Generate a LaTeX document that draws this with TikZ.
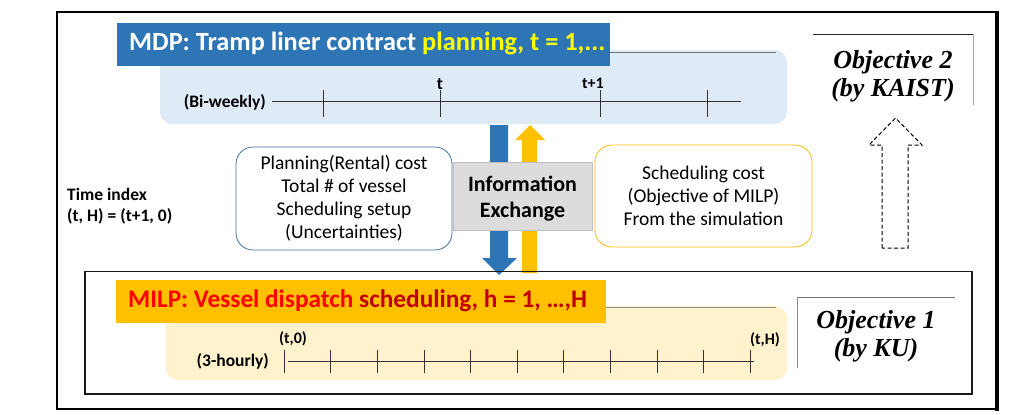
\documentclass[tikz,border=0pt]{standalone}
\usepackage{fontspec}
\setmainfont{Carlito}
\newfontfamily\objfont{Liberation Serif}
\definecolor{blueT}{HTML}{2E75B6}
\definecolor{panelB}{HTML}{DEEBF7}
\definecolor{yellowT}{HTML}{FFC000}
\definecolor{panelY}{HTML}{FFF2CC}
\definecolor{boxB}{HTML}{41719C}
\definecolor{infoG}{HTML}{DCDCDC}
\definecolor{brightY}{HTML}{FFFF00}
\definecolor{redA}{HTML}{FF0000}
\definecolor{redB}{HTML}{C00000}
\tikzset{
  lbl/.style={font=\bfseries\fontsize{17.5}{19}\selectfont, inner sep=0pt},
  smlbl/.style={font=\bfseries\fontsize{16}{18}\selectfont, inner sep=0pt},
  tick/.style={line width=0.6pt, black!80},
  objtxt/.style={font=\objfont\bfseries\itshape\fontsize{26}{28}\selectfont, align=center, inner sep=0pt},
  infobox/.style={draw=black!50, line width=0.8pt, fill=white, rounded corners=17, align=center,
    font=\fontsize{19.5}{23}\selectfont, inner sep=0pt},
}
\begin{document}
\begin{tikzpicture}[x=1pt,y=-1pt]
\useasboundingbox (0,0) rectangle (1021,415);
\fill[white] (0,0) rectangle (1021,415);

% outer frame
\draw[line width=1.2pt] (57,12) rectangle (997,409);
\draw[line width=3.5pt] (997,11) -- (997,410.5);
\draw[line width=2.5pt] (56.4,409) -- (998.7,409);

% ---------- MDP ----------
\fill[panelB, rounded corners=12] (160,50) rectangle (787,124);
\draw[black!55, line width=0.6pt] (606,52) -- (776,52);
\node (mdpbar) [fill=blueT, inner sep=0pt, minimum width=493pt, minimum height=43pt, anchor=north west] at (117,23) {};
\node (mdptxt) [anchor=west, inner sep=0pt, text=white, font=\bfseries\fontsize{26.3}{28}\selectfont] at (129,44)
  {MDP: Tramp liner contract \textcolor{brightY}{planning, t = 1,...}};

\draw[tick] (272,101) -- (741,101);
\foreach \x in {323,440,600,707} \draw[tick] (\x,90) -- (\x,117);
\node (bw) [lbl, anchor=east] at (266,102) {(Bi-weekly)};
\node (tt) [lbl, anchor=south] at (440,90) {t};
\node (tt1) [smlbl, anchor=south] at (593,89) {t+1};

% ---------- Objective 2 ----------
\draw[black!85, line width=0.8pt] (813,34) -- (973,34);
\draw[black!35, line width=0.6pt] (973,34) -- (973,105);
\node (obj2) [objtxt] at (893,76) {Objective 2\\(by KAIST)};

% dashed arrow
\draw[dashed, line width=1pt, dash pattern=on 4pt off 2.5pt]
  (882,248) -- (882,145) -- (869,145) -- (895.5,118) -- (922,145) -- (908,145) -- (908,248) -- cycle;

% ---------- Time index ----------
\node (tindex) [anchor=west, align=left, inner sep=0pt, font=\bfseries\fontsize{17.5}{21}\selectfont] at (67,206)
  {Time index\\(t, H) = (t+1, 0)};

% ---------- side boxes ----------
\node (plan) [infobox, draw=boxB, minimum width=216pt, minimum height=103pt] at (344,198.5)
  {Planning(Rental) cost\\Total \# of vessel\\Scheduling setup\\(Uncertainties)};
\node (sched) [infobox, draw=yellowT, minimum width=217pt, minimum height=102pt] at (703.5,196)
  {Scheduling cost\\(Objective of MILP)\\From the simulation};

% ---------- arrows ----------
\fill[blueT] (490,125) -- (508,125) -- (508,258) -- (517,258) -- (499,275) -- (482,258) -- (490,258) -- cycle;
\fill[yellowT] (522,273) -- (537,273) -- (537,140) -- (545,140) -- (530,125) -- (515,140) -- (522,140) -- cycle;

\node (info) [fill=infoG, draw=black!25, line width=0.8pt, minimum width=139pt, minimum height=68pt, inner sep=0pt] at (522.5,196) {};
\node (infotxt) [inner sep=0pt, align=center, font=\bfseries\fontsize{22}{26}\selectfont] at (522.5,199) {Information\\Exchange};

% ---------- MILP ----------
\draw[line width=1.6pt, black!90] (85,271.5) rectangle (972,394);
\fill[panelY, rounded corners=12] (166,306) rectangle (787,380);
\draw[black!45, line width=0.6pt] (606,307.5) -- (776,307.5);
\node (milpbar) [fill=yellowT, inner sep=0pt, minimum width=490pt, minimum height=43pt, anchor=north west] at (116,280) {};
\node (milptxt) [anchor=west, inner sep=0pt, text=redA, font=\bfseries\fontsize{25.3}{28}\selectfont] at (128,301)
  {MILP: Vessel dispatch \textcolor{redB}{scheduling, h = 1, \dots,H}};

\draw[tick] (288,361) -- (754,361);
\foreach \i in {0,...,10} \draw[tick] ({284+46.6*\i},350) -- ({284+46.6*\i},373);
\node (hr) [lbl, anchor=east] at (269,361) {(3-hourly)};
\node (t0) [smlbl, anchor=south] at (293,346) {(t,0)};
\node (tH) [smlbl, anchor=south] at (765,347) {(t,H)};

% ---------- Objective 1 ----------
\draw[black!55, line width=0.6pt] (797,297) -- (955,297);
\draw[black!45, line width=0.6pt] (797,297) -- (797,368);
\node (obj1) [objtxt] at (876,336) {Objective 1\\(by KU)};
\end{tikzpicture}
\end{document}
